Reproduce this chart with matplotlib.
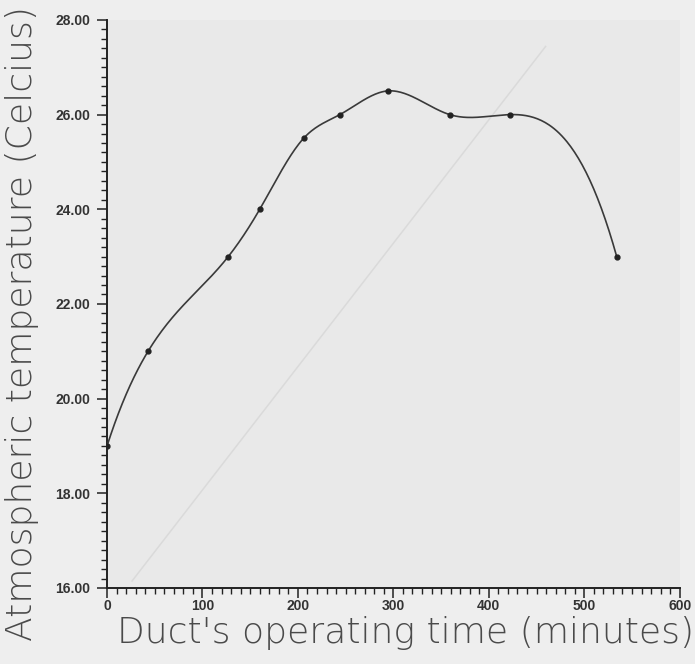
import numpy as np
import matplotlib.pyplot as plt
from matplotlib.ticker import MultipleLocator, FormatStrFormatter
from matplotlib.lines import Line2D

# readings: operating time (min) vs atmospheric temperature (C)
time_min = [0, 43, 127, 160, 206, 244, 294, 359, 422, 534]
temp_c = [19.0, 21.0, 23.0, 24.0, 25.5, 26.0, 26.5, 26.0, 26.0, 23.0]

x_ticks = [0, 100, 200, 300, 400, 500, 600]
y_ticks = [16, 18, 20, 22, 24, 26, 28]


def smooth_curve(x, y, n=400):
    # cubic spline through the points, not-a-knot end conditions
    x = np.asarray(x, float)
    y = np.asarray(y, float)
    k = len(x)
    h = np.diff(x)
    A = np.zeros((k, k))
    b = np.zeros(k)
    A[0, 0], A[0, 1], A[0, 2] = h[1], -(h[0] + h[1]), h[0]
    A[-1, -3], A[-1, -2], A[-1, -1] = h[-1], -(h[-2] + h[-1]), h[-2]
    for i in range(1, k - 1):
        A[i, i - 1] = h[i - 1]
        A[i, i] = 2 * (h[i - 1] + h[i])
        A[i, i + 1] = h[i]
        b[i] = 6 * ((y[i + 1] - y[i]) / h[i] - (y[i] - y[i - 1]) / h[i - 1])
    m = np.linalg.solve(A, b)
    xs = np.linspace(x[0], x[-1], n)
    idx = np.clip(np.searchsorted(x, xs) - 1, 0, k - 2)
    x0, x1 = x[idx], x[idx + 1]
    hh = x1 - x0
    t0, t1 = x1 - xs, xs - x0
    ys = (m[idx] * t0 ** 3 + m[idx + 1] * t1 ** 3) / (6 * hh) \
        + (y[idx] / hh - m[idx] * hh / 6) * t0 \
        + (y[idx + 1] / hh - m[idx + 1] * hh / 6) * t1
    return xs, ys


fig = plt.figure(figsize=(6.95, 6.64), dpi=100)
fig.patch.set_facecolor('#eeeeee')
ax = fig.add_axes([0.154, 0.1145, 0.824, 0.8555])
ax.set_facecolor('#e9e9e9')

# faint crease running across the sheet
ax.add_line(Line2D([0.19, 0.785], [0.125, 0.93], transform=fig.transFigure,
                   color='#dadada', lw=1.1, zorder=1, clip_on=False))

xs, ys = smooth_curve(time_min, temp_c)
ax.plot(xs, ys, color='#3a3a3a', lw=1.2, zorder=3)
ax.plot(time_min, temp_c, 'o', color='#222222', ms=3.5, zorder=4)

ax.set_xlim(0, 600)
ax.set_ylim(16, 28)
ax.set_xticks(x_ticks)
ax.set_yticks(y_ticks)
ax.xaxis.set_minor_locator(MultipleLocator(10))
ax.yaxis.set_minor_locator(MultipleLocator(0.2))
ax.yaxis.set_major_formatter(FormatStrFormatter('%.2f'))

for s in ['top', 'right']:
    ax.spines[s].set_visible(False)
for s in ['left', 'bottom']:
    ax.spines[s].set_color('#222222')
    ax.spines[s].set_linewidth(1.4)

ax.tick_params(which='major', length=7, width=1.1, color='#222222', direction='out',
               labelsize=10, labelcolor='#333333')
ax.tick_params(axis='x', which='major', pad=1)
ax.tick_params(axis='y', which='major', pad=5)
ax.tick_params(which='minor', length=4.5, width=1.0, color='#222222', direction='out')
for lab in ax.get_xticklabels() + ax.get_yticklabels():
    lab.set_fontfamily('Liberation Sans')
    lab.set_fontweight('bold')

label_font = dict(fontsize=26, color='#4a4a4a', family='DejaVu Sans', fontweight='light')
fig.text(0.584, 0.047, "Duct's operating time (minutes)", ha='center', va='center',
         **label_font)
fig.text(0.032, 0.513, "Atmospheric temperature (Celcius)", ha='center', va='center',
         rotation=90, **label_font)

fig.savefig('out.png', dpi=100, facecolor=fig.get_facecolor())
